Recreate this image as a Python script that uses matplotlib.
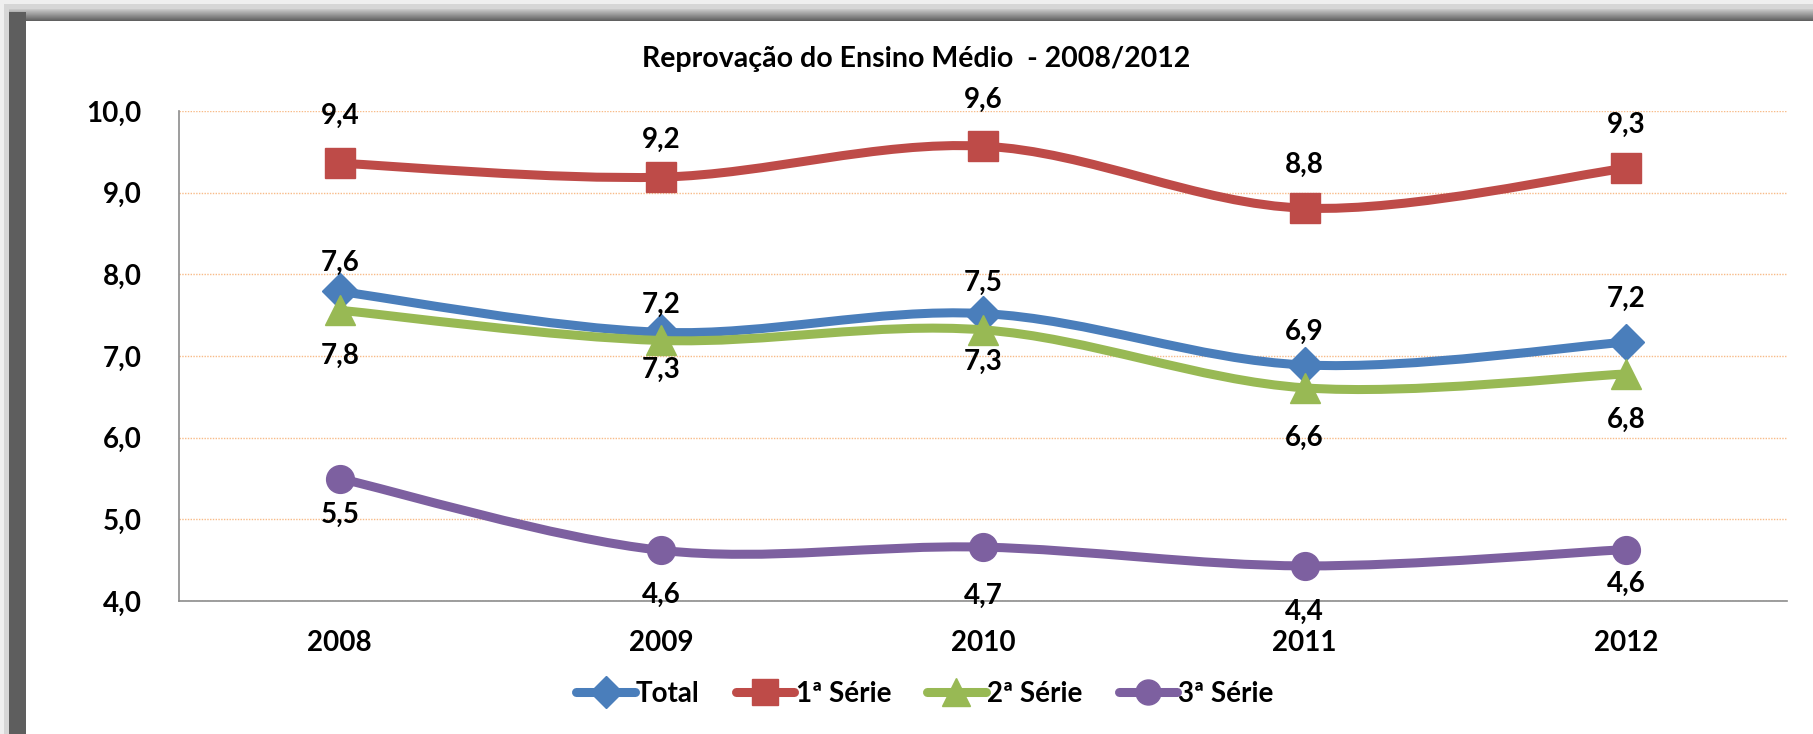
import numpy as np
import matplotlib
matplotlib.use('Agg')
import matplotlib.pyplot as plt
from matplotlib.path import Path
from matplotlib.patches import PathPatch, Rectangle
from matplotlib.lines import Line2D

plt.rcParams['font.family'] = ['Lato', 'DejaVu Sans']

# ---- data ----
years = ['2008', '2009', '2010', '2011', '2012']
total = [7.79, 7.29, 7.52, 6.89, 7.17]
serie1 = [9.36, 9.19, 9.57, 8.81, 9.30]
serie2 = [7.56, 7.19, 7.32, 6.61, 6.78]
serie3 = [5.50, 4.62, 4.66, 4.43, 4.63]
series_names = ['Total', '1ª Série', '2ª Série', '3ª Série']
yticks = [4, 5, 6, 7, 8, 9, 10]
title = 'Reprovação do Ensino Médio  - 2008/2012'

# ---- styles ----
colors = ['#4A7EBB', '#BE4B48', '#98B954', '#7D60A0']
markers = ['D', 's', '^', 'o']
msizes = [18.5, 21.5, 22, 20]
# label vertical offsets (points)
label_offsets = [
    [-46, -27, 22, 24, 31],
    [34, 27, 33, 31, 31],
    [34, 26, -23, -36, -33],
    [-26, -32, -35, -33, -25],
]

W, H = 1813, 734
fig = plt.figure(figsize=(W / 100, H / 100), dpi=100)
fig.patch.set_facecolor('white')


def frect(x0, y0, x1, y1, color, alpha=1.0):
    fig.patches.append(Rectangle((x0 / W, 1 - y1 / H), (x1 - x0) / W, (y1 - y0) / H,
                                 transform=fig.transFigure, facecolor=color,
                                 edgecolor='none', alpha=alpha, zorder=0))


# soft outer shadow
frect(0, 0, W, 9, '#efefef')
frect(0, 0, 9, H, '#efefef')
frect(4, 4, W, 9, '#d6d6d6')
frect(4, 4, 9, H, '#d6d6d6')
# top bar gradient
tb = np.linspace(0, 1, 12)
for k, t in enumerate(tb):
    c = 0.78 - 0.40 * t
    frect(9, 9 + k, W, 10 + k, (c, c, c))
# left bar
frect(9, 12, 26, H, '#5e5e5e')

ax = fig.add_axes([179 / W, 1 - 601 / H, (1787 - 179) / W, (601 - 111) / H])
ax.set_xlim(-0.5, 4.5)
ax.set_ylim(4, 10)
ax.set_facecolor('none')

x = np.arange(len(years))


def smooth_path(xs, ys):
    pts = np.column_stack([xs, ys]).astype(float)
    n = len(pts)
    verts = [pts[0]]
    codes = [Path.MOVETO]
    for i in range(n - 1):
        p0 = pts[i - 1] if i > 0 else pts[i]
        p1 = pts[i]
        p2 = pts[i + 1]
        p3 = pts[i + 2] if i + 2 < n else pts[i + 1]
        c1 = p1 + (p2 - p0) / 6.0
        c2 = p2 - (p3 - p1) / 6.0
        verts += [c1, c2, p2]
        codes += [Path.CURVE4] * 3
    return Path(verts, codes)


all_series = [total, serie1, serie2, serie3]
handles = []
for i, (vals, name) in enumerate(zip(all_series, series_names)):
    patch = PathPatch(smooth_path(x, vals), facecolor='none', edgecolor=colors[i],
                      lw=6.5, capstyle='round', joinstyle='round', zorder=3 + 2 * i)
    ax.add_patch(patch)
    ax.plot(x, vals, linestyle='none', marker=markers[i], ms=msizes[i],
            mfc=colors[i], mec=colors[i], mew=1, zorder=4 + 2 * i)
    handles.append(Line2D([], [], color=colors[i], lw=6.5, marker=markers[i],
                          ms=msizes[i] * 0.9, mfc=colors[i], mec=colors[i],
                          solid_capstyle='round'))
    for j, v in enumerate(vals):
        txt = f'{v:.1f}'.replace('.', ',')
        ax.annotate(txt, (x[j], v), xytext=(0, label_offsets[i][j]),
                    textcoords='offset points', ha='center', va='center',
                    fontsize=20, fontweight='bold', color='black', zorder=20)

# grid
ax.set_yticks(yticks)
ax.set_yticklabels([f'{v:.1f}'.replace('.', ',') for v in yticks])
ax.set_xticks(x)
ax.set_xticklabels(years)
ax.yaxis.grid(True, color='#F8BB88', linestyle=(0, (1, 1)), lw=1.0, zorder=1)
ax.set_axisbelow(True)
ax.tick_params(axis='both', length=0, labelsize=20)
ax.tick_params(axis='y', pad=27)
ax.tick_params(axis='x', pad=21)
for lab in ax.get_xticklabels() + ax.get_yticklabels():
    lab.set_fontweight('bold')
for s in ['top', 'right']:
    ax.spines[s].set_visible(False)
for s in ['left', 'bottom']:
    ax.spines[s].set_color('#8c8c8c')
    ax.spines[s].set_linewidth(1.2)

fig.text(916 / W, 1 - 59 / H, title, ha='center', va='center',
         fontsize=20.5, fontweight='bold')

leg = fig.legend(handles, series_names, loc='center', bbox_to_anchor=(925 / W, 1 - 694 / H),
                 ncol=4, frameon=False, handlelength=2.1, handletextpad=0.05,
                 columnspacing=1.3, prop={'size': 20, 'weight': 'bold'})

fig.savefig('out.png', dpi=100, facecolor='white')
